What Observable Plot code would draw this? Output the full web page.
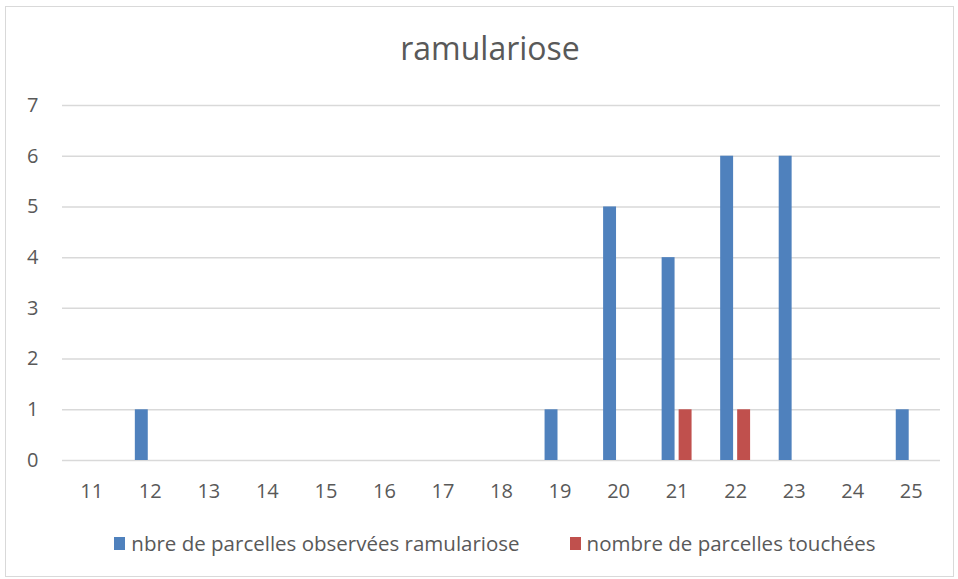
<!DOCTYPE html>
<html>
<head>
<meta charset="utf-8">
<script src="https://cdn.jsdelivr.net/npm/d3@7"></script>
<script src="https://cdn.jsdelivr.net/npm/@observablehq/plot@0.6"></script>
<style>
  html, body { margin: 0; padding: 0; background: #fff; }
  body { width: 958px; height: 579px; position: relative; overflow: hidden; font-family: "Open Sans", sans-serif; color: #595959; }
  #frame { position: absolute; left: 5px; top: 6px; width: 947px; height: 569px; border: 1px solid #d9d9d9; }
  #title { position: absolute; left: 0; width: 980px; top: 26px; text-align: center; font-size: 32px; color: #595959; line-height: 44px; }
  #chart { position: absolute; left: 0; top: 0; }
  #legend { position: absolute; left: 0; width: 990px; top: 530px; display: flex; justify-content: center; align-items: center; font-size: 20.5px; color: #595959; line-height: 26px; }
  .item { display: flex; align-items: center; margin: 0 25px; }
  .sw { width: 11px; height: 13px; margin-right: 6px; }
</style>
</head>
<body>
<div id="frame"></div>
<div id="title">ramulariose</div>
<div id="chart"></div>
<div id="legend"></div>
<script>
const categories = ["11","12","13","14","15","16","17","18","19","20","21","22","23","24","25"];
const observed   = [0, 1, 0, 0, 0, 0, 0, 0, 1, 5, 4, 6, 6, 0, 1];
const touched    = [0, 0, 0, 0, 0, 0, 0, 0, 0, 0, 1, 1, 0, 0, 0];
const seriesNames = ["nbre de parcelles observées ramulariose", "nombre de parcelles touchées"];
const seriesColors = ["#4f81bd", "#c0504d"];
const yTicks = [0, 1, 2, 3, 4, 5, 6, 7];

const obsData = categories.map((c, i) => ({cat: c, value: observed[i]})).filter(d => d.value > 0);
const touData = categories.map((c, i) => ({cat: c, value: touched[i]})).filter(d => d.value > 0);

const plot = Plot.plot({
  width: 958,
  height: 500,
  marginTop: 105,
  marginBottom: 40,
  marginLeft: 62,
  marginRight: 18,
  style: {fontFamily: "Open Sans, sans-serif", fontSize: "20px", color: "#595959", background: "transparent", overflow: "visible"},
  x: {domain: categories, padding: 0, round: false, label: null, tickSize: 0, tickPadding: 23},
  y: {domain: [0, 7], ticks: yTicks, label: null, tickSize: 0, tickPadding: 24, tickFormat: d3.format("d")},
  marks: [
    Plot.ruleY(yTicks, {stroke: "#d9d9d9", strokeWidth: 1.5}),
    Plot.barY(obsData, {x: "cat", y: "value", fill: seriesColors[0], insetLeft: 14.3, insetRight: 31.3}),
    Plot.barY(touData, {x: "cat", y: "value", fill: seriesColors[1], insetLeft: 31.3, insetRight: 14.3})
  ]
});
document.getElementById("chart").appendChild(plot);

const legend = document.getElementById("legend");
seriesNames.forEach((name, i) => {
  const item = document.createElement("div");
  item.className = "item";
  const sw = document.createElement("span");
  sw.className = "sw";
  sw.style.background = seriesColors[i];
  const label = document.createElement("span");
  label.textContent = name;
  item.appendChild(sw);
  item.appendChild(label);
  legend.appendChild(item);
});
</script>
</body>
</html>
